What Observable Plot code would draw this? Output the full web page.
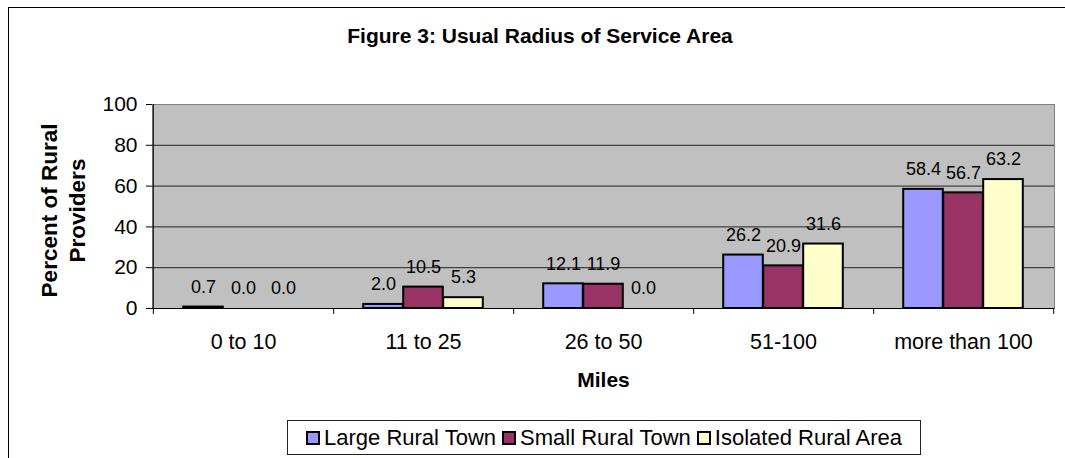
<!DOCTYPE html>
<html>
<head>
<meta charset="utf-8">
<script src="https://cdn.jsdelivr.net/npm/d3@7"></script>
<script src="https://cdn.jsdelivr.net/npm/@observablehq/plot@0.6"></script>
<style>
  html, body { margin: 0; padding: 0; background: #fff; overflow: hidden; }
  body { width: 1065px; height: 458px; position: relative; font-family: "Liberation Sans", Arial, sans-serif; }
  #hline { position: absolute; left: 8px; top: 7px; width: 1057px; height: 1px; background: #000; }
  #vline { position: absolute; left: 8px; top: 7px; width: 1px; height: 451px; background: #000; }
  #title { position: absolute; left: 0; width: 1080px; top: 24px; text-align: center; font-weight: bold; font-size: 21px; line-height: 24px; }
  #chart { position: absolute; left: 0; top: 0; }
  #legend { position: absolute; left: 287px; top: 420px; width: 634px; height: 35px; border: 1px solid #222; box-sizing: border-box;
            display: flex; align-items: center; justify-content: center; font-size: 22px; background: #fff; }
  .item { display: flex; align-items: center; margin: 0 3px; white-space: nowrap; }
  .sw { width: 10px; height: 10px; border: 2px solid #000; margin-right: 4px; }
</style>
</head>
<body>
<div id="hline"></div>
<div id="vline"></div>
<div id="chart"></div>
<div id="title">Figure 3: Usual Radius of Service Area</div>
<div id="legend"></div>
<script>
const categories = ["0 to 10", "11 to 25", "26 to 50", "51-100", "more than 100"];
const seriesNames = ["Large Rural Town", "Small Rural Town", "Isolated Rural Area"];
const largeRuralTown = [0.7, 2.0, 12.1, 26.2, 58.4];
const smallRuralTown = [0.0, 10.5, 11.9, 20.9, 56.7];
const isolatedRuralArea = [0.0, 5.3, 0.0, 31.6, 63.2];
const seriesColors = ["#9999FF", "#993366", "#FFFFCC"];
const yTicks = [0, 20, 40, 60, 80, 100];

const seriesValues = [largeRuralTown, smallRuralTown, isolatedRuralArea];
const rows = [];
seriesValues.forEach((vals, j) => vals.forEach((v, i) => rows.push({cat: categories[i], series: seriesNames[j], value: v, j})));

const W = 1065, H = 400, mL = 152, mR = 11, mT = 104, mB = 92;
const bw = (W - mL - mR) / categories.length;
const barW = 40;
const inset = (bw - barW) / 2;

const marks = [
  Plot.frame({fill: "#C0C0C0", stroke: "#808080"}),
  Plot.ruleY(yTicks.filter(t => t > 0 && t < 100), {stroke: "#222", strokeWidth: 1}),
  Plot.ruleY([0], {stroke: "#000"}),
  Plot.ruleX([categories[0]], {dx: -bw / 2, insetBottom: -6, stroke: "#000"}),
  Plot.axisX({tickSize: 6, tickFormat: () => "", dx: bw / 2, label: null, stroke: "#000"}),
  Plot.axisX({tickSize: 0, tickPadding: 25, label: null, fontSize: 21.5, fill: "#000"}),
  Plot.axisY({ticks: yTicks, tickSize: 6, tickPadding: 9, label: null, fontSize: 21, fill: "#000", stroke: "#000"})
];
seriesNames.forEach((s, j) => {
  const data = rows.filter(r => r.j === j);
  marks.push(Plot.barY(data, {x: "cat", y: "value", fill: seriesColors[j], stroke: "#000", strokeWidth: 2,
    insetLeft: inset, insetRight: inset, dx: (j - 1) * barW}));
});
seriesNames.forEach((s, j) => {
  const data = rows.filter(r => r.j === j);
  marks.push(Plot.text(data, {x: "cat", y: "value", text: d => d.value.toFixed(1), dx: (j - 1) * barW, dy: -20,
    fontSize: 18, fill: "#000"}));
});
marks.push(Plot.text(["Percent of Rural\nProviders"], {frameAnchor: "left", text: d => d, rotate: -90, dx: -90.5, dy: 4,
  textAnchor: "middle", lineAnchor: "middle", lineHeight: 1.25, fontWeight: "bold", fontSize: 22.5, fill: "#000"}));
marks.push(Plot.text(["Miles"], {frameAnchor: "bottom", text: d => d, dy: 72, textAnchor: "middle", lineAnchor: "middle",
  fontWeight: "bold", fontSize: 21, fill: "#000"}));

const chart = Plot.plot({
  width: W, height: H,
  marginLeft: mL, marginRight: mR, marginTop: mT, marginBottom: mB,
  x: {domain: categories, padding: 0},
  y: {domain: [0, 100]},
  style: {fontFamily: "'Liberation Sans', Arial, sans-serif", background: "transparent", color: "#000", overflow: "visible"},
  marks
});
document.getElementById("chart").appendChild(chart);

const legend = document.getElementById("legend");
seriesNames.forEach((s, j) => {
  const it = document.createElement("div");
  it.className = "item";
  const sw = document.createElement("div");
  sw.className = "sw";
  sw.style.background = seriesColors[j];
  const t = document.createElement("span");
  t.textContent = s;
  it.appendChild(sw); it.appendChild(t);
  legend.appendChild(it);
});
</script>
</body>
</html>
